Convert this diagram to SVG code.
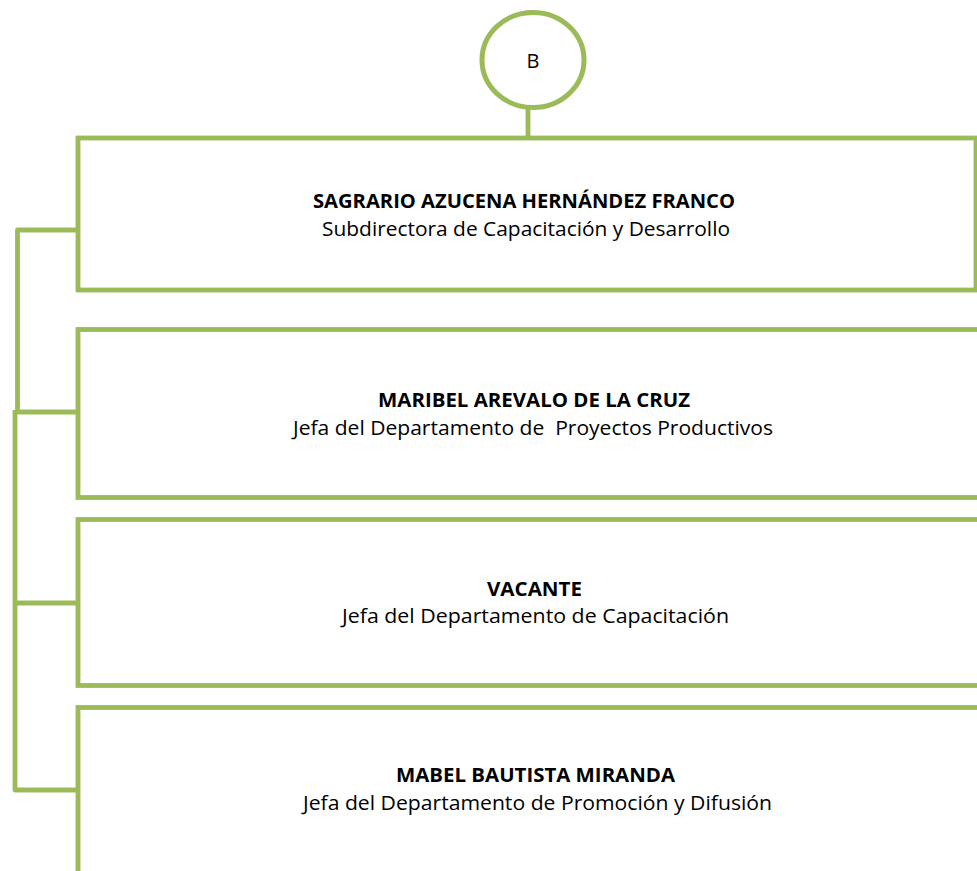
<svg xmlns="http://www.w3.org/2000/svg" width="977" height="871" viewBox="0 0 977 871">
<style>
.ln{fill:none;stroke:#9BBB59;stroke-width:4.8;stroke-linejoin:round}
.box{fill:#FFFFFF;stroke:#9BBB59;stroke-width:4.8}
.nm{font-family:"Open Sans","Liberation Sans",sans-serif;font-weight:bold;font-size:20px;fill:#000;text-anchor:middle}
.tt{font-family:"Open Sans","Liberation Sans",sans-serif;font-size:20px;fill:#000;text-anchor:middle}
</style>
<rect width="977" height="871" fill="#FFFFFF"/>
<g id="connectors">
<line class="ln" x1="528" y1="108" x2="528" y2="138"/>
<polyline class="ln" points="78,230 17.5,230 17.5,412 78,412"/>
<polyline class="ln" points="15,410 15,790 78,790"/>
<line class="ln" x1="15" y1="603" x2="78" y2="603"/>
</g>
<g id="node-b">
<ellipse cx="533" cy="60" rx="51" ry="47.5" fill="#FFFFFF" stroke="#9BBB59" stroke-width="5"/>
<text x="533" y="68" class="tt">B</text>
</g>
<g id="node-sagrario">
<rect class="box" x="78" y="138" width="898" height="152"/>
<text class="nm" x="524" y="208" textLength="422" lengthAdjust="spacingAndGlyphs">SAGRARIO AZUCENA HERNÁNDEZ FRANCO</text>
<text class="tt" x="526" y="236" textLength="408" lengthAdjust="spacingAndGlyphs">Subdirectora de Capacitación y Desarrollo</text>
</g>
<g id="node-maribel">
<rect class="box" x="78" y="329.5" width="930" height="168"/>
<text class="nm" x="534" y="407" textLength="312" lengthAdjust="spacingAndGlyphs">MARIBEL AREVALO DE LA CRUZ</text>
<text class="tt" x="533" y="435" textLength="480" lengthAdjust="spacingAndGlyphs" xml:space="preserve">Jefa del Departamento de  Proyectos Productivos</text>
</g>
<g id="node-vacante">
<rect class="box" x="78" y="519.5" width="930" height="166"/>
<text class="nm" x="534.5" y="596" textLength="95" lengthAdjust="spacingAndGlyphs">VACANTE</text>
<text class="tt" x="535.5" y="623" textLength="387" lengthAdjust="spacingAndGlyphs">Jefa del Departamento de Capacitación</text>
</g>
<g id="node-mabel">
<rect class="box" x="78" y="707.5" width="930" height="200"/>
<text class="nm" x="535.5" y="782" textLength="279" lengthAdjust="spacingAndGlyphs">MABEL BAUTISTA MIRANDA</text>
<text class="tt" x="537.5" y="810" textLength="469" lengthAdjust="spacingAndGlyphs">Jefa del Departamento de Promoción y Difusión</text>
</g>
</svg>
